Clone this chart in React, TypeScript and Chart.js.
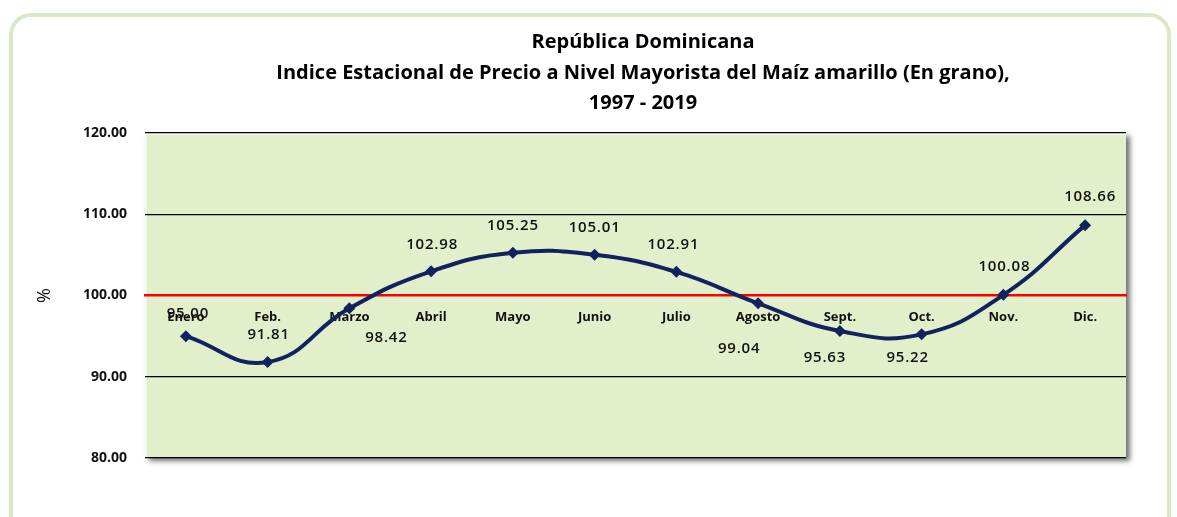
import React, { useEffect, useRef } from "react";
import { Chart, registerables } from "chart.js";

Chart.register(...registerables);

const months = ["Enero", "Feb.", "Marzo", "Abril", "Mayo", "Junio", "Julio", "Agosto", "Sept.", "Oct.", "Nov.", "Dic."];
const indexValues = [95.0, 91.81, 98.42, 102.98, 105.25, 105.01, 102.91, 99.04, 95.63, 95.22, 100.08, 108.66];
const titleLines = [
  "República Dominicana",
  "Indice Estacional de Precio a Nivel Mayorista del Maíz amarillo (En grano),",
  "1997 - 2019",
];
const yAxisTitle = "%";
const yMin = 80;
const yMax = 120;
const yStep = 10;
const referenceValue = 100;
// label placement offsets (px) relative to each point
const labelOffsets: [number, number][] = [
  [2, -22], [1, -27], [37, 29], [1, -27], [0, -27], [0, -27],
  [-3, -27], [-19, 45], [-15, 27], [-14, 23], [1, -28], [5, -28],
];

const FONT = "'Open Sans', 'DejaVu Sans', sans-serif";
const NAVY = "#11225f";

const plotBackground = {
  id: "plotBackground",
  beforeDraw(chart: any) {
    const { ctx, chartArea: a } = chart;
    ctx.save();
    ctx.shadowColor = "rgba(0,0,0,0.55)";
    ctx.shadowBlur = 5;
    ctx.shadowOffsetX = 4;
    ctx.shadowOffsetY = 3;
    ctx.fillStyle = "#e2efcb";
    ctx.fillRect(a.left, a.top, a.right - a.left, a.bottom - a.top);
    ctx.restore();
    ctx.save();
    ctx.strokeStyle = "rgba(255,255,255,0.6)";
    ctx.lineWidth = 2;
    ctx.beginPath();
    ctx.moveTo(a.left + 1, a.bottom);
    ctx.lineTo(a.left + 1, a.top + 1);
    ctx.lineTo(a.right, a.top + 1);
    ctx.stroke();
    ctx.restore();
  },
};

const titlePlugin = {
  id: "titleLines",
  afterDraw(chart: any) {
    const { ctx } = chart;
    ctx.save();
    ctx.fillStyle = "#000";
    ctx.font = `bold 20px ${FONT}`;
    ctx.textAlign = "center";
    ctx.textBaseline = "middle";
    const ys = [42, 73, 103];
    titleLines.forEach((t, i) => ctx.fillText(t, 643, ys[i]));
    ctx.restore();
  },
};

const dataLabels = {
  id: "dataLabels",
  afterDatasetsDraw(chart: any) {
    const { ctx } = chart;
    const meta = chart.getDatasetMeta(0);
    ctx.save();
    ctx.fillStyle = "#111";
    ctx.font = `600 15px ${FONT}`;
    (ctx as any).letterSpacing = "0.8px";
    ctx.textAlign = "center";
    ctx.textBaseline = "middle";
    meta.data.forEach((pt: any, i: number) => {
      const [dx, dy] = labelOffsets[i];
      ctx.fillText(indexValues[i].toFixed(2), pt.x + dx, pt.y + dy);
    });
    ctx.restore();
  },
};

export default function App() {
  const ref = useRef<HTMLCanvasElement | null>(null);
  useEffect(() => {
    if (!ref.current) return;
    const chart = new Chart(ref.current, {
      type: "line",
      data: {
        labels: months,
        datasets: [
          {
            data: indexValues,
            borderColor: NAVY,
            backgroundColor: NAVY,
            borderWidth: 4,
            tension: 0.45,
            pointStyle: "rectRot",
            pointRadius: 6,
            pointBorderWidth: 0,
            pointBackgroundColor: NAVY,
            fill: false,
          },
        ],
      },
      options: {
        responsive: false,
        animation: false,
        layout: { padding: { left: 30, right: 51, top: 133, bottom: 59 } },
        plugins: {
          legend: { display: false },
          title: { display: false },
          tooltip: { enabled: false },
        },
        scales: {
          x: {
            position: { y: referenceValue } as any,
            offset: true,
            grid: { display: false, drawTicks: false },
            border: { display: true, color: "#ff0000", width: 2.5 },
            ticks: {
              color: "#111",
              font: { family: FONT, size: 13, weight: "bold" },
              padding: 14,
              maxRotation: 0,
              autoSkip: false,
            },
          },
          y: {
            min: yMin,
            max: yMax,
            afterFit(scale: any) {
              scale.width = 115;
            },
            ticks: {
              stepSize: yStep,
              padding: 18,
              color: "#111",
              font: { family: FONT, size: 14, weight: "bold" },
              callback: (v: any) => Number(v).toFixed(2),
            },
            grid: {
              drawTicks: false,
              color: (c: any) => (c.tick && c.tick.value === referenceValue ? "rgba(0,0,0,0)" : "#000"),
              lineWidth: 1.3,
            },
            border: { display: false },
            title: {
              display: true,
              text: yAxisTitle,
              color: "#111",
              font: { family: FONT, size: 18 },
            },
          },
        },
      },
      plugins: [plotBackground, dataLabels, titlePlugin],
    });
    return () => chart.destroy();
  }, []);

  return (
    <div style={{ position: "fixed", left: 0, top: 0, width: 1177, height: 517, background: "#fff", overflow: "hidden" }}>
      <div
        style={{
          position: "absolute",
          left: 9,
          top: 13,
          width: 1162,
          height: 560,
          border: "4px solid #dbe8c7",
          borderRadius: 22,
          boxSizing: "border-box",
        }}
      />
      <canvas ref={ref} width={1177} height={517} style={{ position: "absolute", left: 0, top: 0 }} />
    </div>
  );
}
